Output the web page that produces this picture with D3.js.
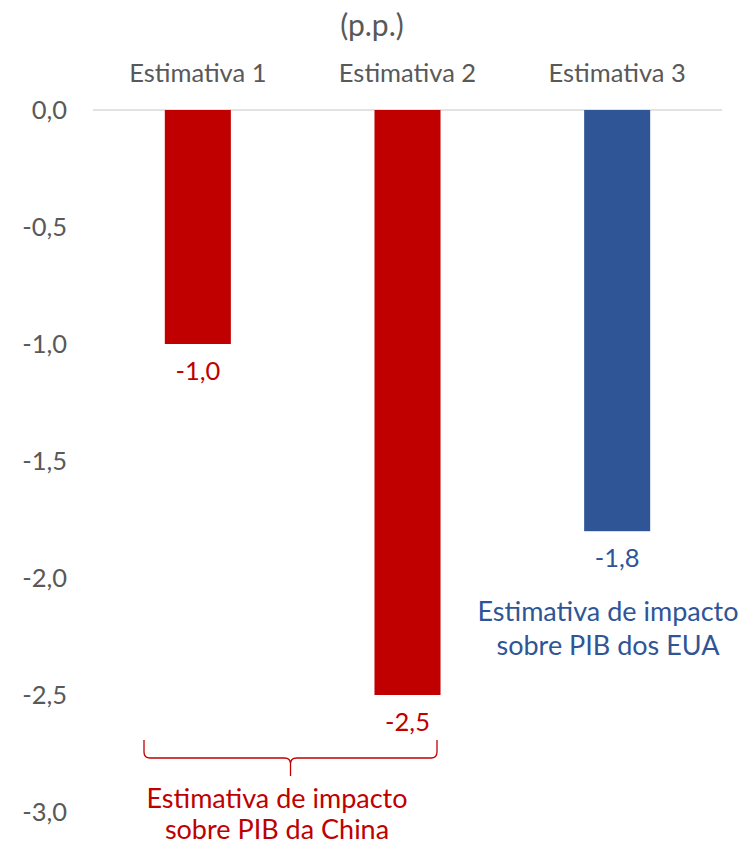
<!DOCTYPE html>
<html><head><meta charset="utf-8">
<script src="https://cdn.jsdelivr.net/npm/d3@7"></script>
<style>body{margin:0;background:#fff}</style>
</head><body>
<script>
const categories = ["Estimativa 1", "Estimativa 2", "Estimativa 3"];
const values = [-1.0, -2.5, -1.8];
const valueLabels = ["-1,0", "-2,5", "-1,8"];
const barColors = ["#C00000", "#C00000", "#2F5597"];
const yTicks = [0, -0.5, -1.0, -1.5, -2.0, -2.5, -3.0];
const yTickLabels = ["0,0", "-0,5", "-1,0", "-1,5", "-2,0", "-2,5", "-3,0"];
const title = "(p.p.)";
const chinaNote = ["Estimativa de impacto", "sobre PIB da China"];
const euaNote = ["Estimativa de impacto", "sobre PIB dos EUA"];

const W = 751, H = 844;
const font = "Lato, 'Open Sans', sans-serif";
const svg = d3.select("body").append("svg").attr("width", W).attr("height", H)
  .style("font-family", font);

const x = d3.scaleBand().domain(categories).range([93, 722]).paddingInner(0.685).paddingOuter(0.3425);
const y = d3.scaleLinear().domain([0, -3]).range([110, 812]);

// y axis labels
svg.append("g").selectAll("text").data(yTicks).join("text")
  .attr("x", 67).attr("y", d => y(d)).attr("dy", "0.35em")
  .attr("text-anchor", "end").attr("font-size", 25.5).attr("fill", "#595959")
  .text((d, i) => yTickLabels[i]);

// zero line
svg.append("line").attr("x1", 93).attr("x2", 722).attr("y1", y(0)).attr("y2", y(0))
  .attr("stroke", "#D9D9D9").attr("stroke-width", 1.5);

// bars
svg.append("g").selectAll("rect").data(values).join("rect")
  .attr("x", (d, i) => x(categories[i])).attr("width", x.bandwidth())
  .attr("y", y(0)).attr("height", d => y(d) - y(0))
  .attr("fill", (d, i) => barColors[i]);

// category labels at top
svg.append("g").selectAll("text").data(categories).join("text")
  .attr("x", d => x(d) + x.bandwidth() / 2).attr("y", 73).attr("dy", "0.35em")
  .attr("text-anchor", "middle").attr("font-size", 25.5).attr("fill", "#595959")
  .text(d => d);

// title
svg.append("text").attr("x", 372).attr("y", 25).attr("dy", "0.35em")
  .attr("text-anchor", "middle").attr("font-size", 30).attr("fill", "#595959").text(title);

// value labels
svg.append("g").selectAll("text").data(values).join("text")
  .attr("x", (d, i) => x(categories[i]) + x.bandwidth() / 2).attr("y", d => y(d) + 27).attr("dy", "0.35em")
  .attr("text-anchor", "middle").attr("font-size", 25.5).attr("fill", (d, i) => barColors[i])
  .text((d, i) => valueLabels[i]);

// brace under Estimativa 1 & 2
const bx1 = 144, bx2 = 437, byTop = 740, byMid = 758, byTip = 776;
const bxm = (bx1 + bx2) / 2;
const r = 6;
svg.append("path")
  .attr("d", `M${bx1},${byTop} L${bx1},${byMid - r} Q${bx1},${byMid} ${bx1 + r},${byMid} L${bxm - r},${byMid} Q${bxm},${byMid} ${bxm},${byMid + r} L${bxm},${byTip}
    M${bxm},${byMid + r} Q${bxm},${byMid} ${bxm + r},${byMid} L${bx2 - r},${byMid} Q${bx2},${byMid} ${bx2},${byMid - r} L${bx2},${byTop}`)
  .attr("fill", "none").attr("stroke", "#C00000").attr("stroke-width", 1.3);

// China note
svg.append("g").selectAll("text").data(chinaNote).join("text")
  .attr("x", 277).attr("y", (d, i) => 799 + i * 31).attr("dy", "0.35em")
  .attr("text-anchor", "middle").attr("font-size", 27).attr("fill", "#C00000").text(d => d);

// EUA note
svg.append("g").selectAll("text").data(euaNote).join("text")
  .attr("x", 608).attr("y", (d, i) => 612 + i * 34).attr("dy", "0.35em")
  .attr("text-anchor", "middle").attr("font-size", 27).attr("fill", "#2F5597").text(d => d);
</script>
</body></html>
